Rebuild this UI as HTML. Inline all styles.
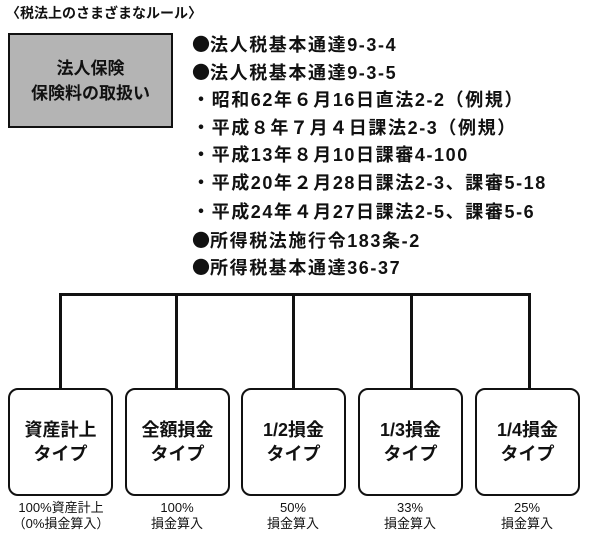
<!DOCTYPE html>
<html><head><meta charset="utf-8"><style>
body{margin:0;width:600px;height:551px;background:#fff;position:relative;font-family:"Liberation Sans","Noto Sans CJK JP",sans-serif;color:#111;overflow:hidden}
.a{position:absolute;white-space:nowrap}
.title{left:6px;top:3px;font-size:14px;font-weight:bold}
.gray{position:absolute;left:8px;top:33px;width:161px;height:91px;background:#b4b4b4;border:2px solid #111;display:flex;align-items:center;justify-content:center;text-align:center;font-size:17px;font-weight:bold;line-height:25px}
.li{left:192px;font-size:18px;font-weight:bold;line-height:20px;letter-spacing:1.6px}
.b{font-family:"Noto Sans CJK JP",sans-serif;letter-spacing:0}
.box{position:absolute;top:388px;width:101px;height:104px;border:2px solid #111;border-radius:10px;background:#fff;display:flex;align-items:center;justify-content:center;text-align:center;font-size:18px;font-weight:bold;line-height:24px}
.cap{position:absolute;top:500px;width:120px;text-align:center;font-size:13px;line-height:16px}
.v{position:absolute;width:3px;background:#111;top:294px;height:95px}
</style></head><body>
<div class="a title">〈税法上のさまざまなルール〉</div>
<div class="gray">法人保険<br>保険料の取扱い</div>
<div class="a li" style="top:34px"><span class="b">●</span>法人税基本通達9-3-4</div>
<div class="a li" style="top:62px"><span class="b">●</span>法人税基本通達9-3-5</div>
<div class="a li" style="top:90px">・昭和62年６月16日直法2-2（例規）</div>
<div class="a li" style="top:118px">・平成８年７月４日課法2-3（例規）</div>
<div class="a li" style="top:145px">・平成13年８月10日課審4-100</div>
<div class="a li" style="top:173px">・平成20年２月28日課法2-3、課審5-18</div>
<div class="a li" style="top:202px">・平成24年４月27日課法2-5、課審5-6</div>
<div class="a li" style="top:230px"><span class="b">●</span>所得税法施行令183条-2</div>
<div class="a li" style="top:257px"><span class="b">●</span>所得税基本通達36-37</div>
<div style="position:absolute;left:59px;top:293px;width:472px;height:3px;background:#111"></div>
<div class="v" style="left:59px"></div>
<div class="v" style="left:175px"></div>
<div class="v" style="left:292px"></div>
<div class="v" style="left:410px"></div>
<div class="v" style="left:528px"></div>
<div class="box" style="left:8px">資産計上<br>タイプ</div>
<div class="box" style="left:125px">全額損金<br>タイプ</div>
<div class="box" style="left:241px">1/2損金<br>タイプ</div>
<div class="box" style="left:358px">1/3損金<br>タイプ</div>
<div class="box" style="left:475px">1/4損金<br>タイプ</div>
<div class="cap" style="left:1px">100%資産計上<br>（0%損金算入）</div>
<div class="cap" style="left:117px">100%<br>損金算入</div>
<div class="cap" style="left:233px">50%<br>損金算入</div>
<div class="cap" style="left:350px">33%<br>損金算入</div>
<div class="cap" style="left:467px">25%<br>損金算入</div>
</body></html>
